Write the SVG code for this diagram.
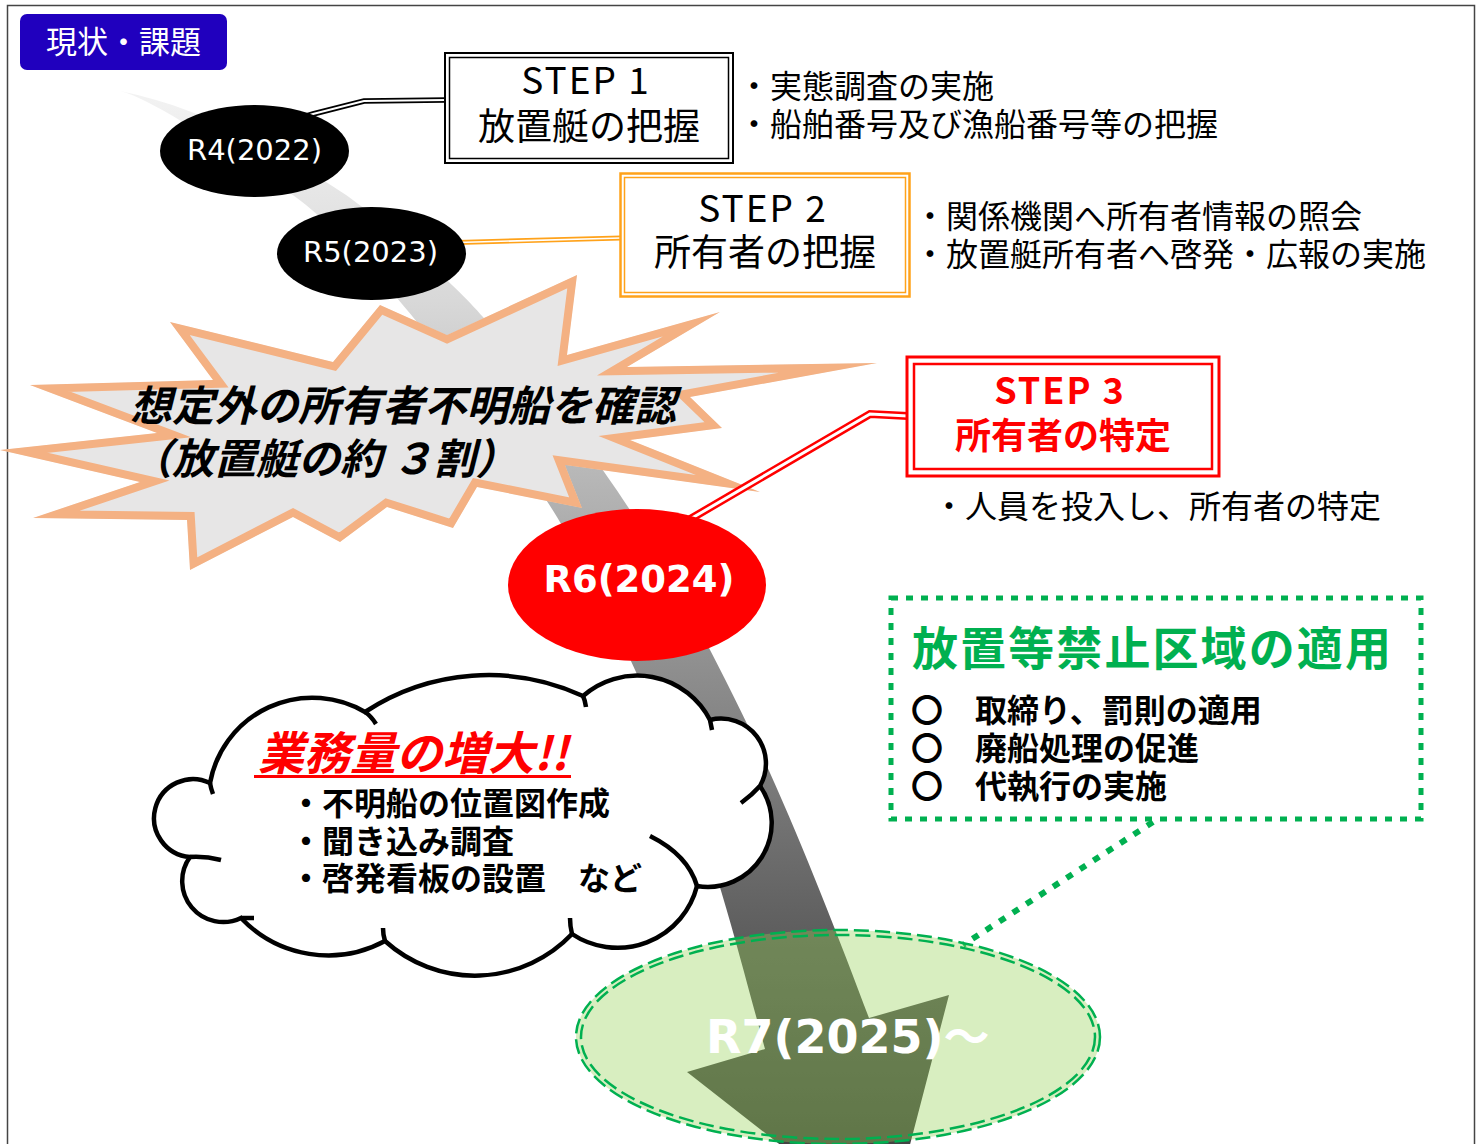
<svg xmlns="http://www.w3.org/2000/svg" width="1479" height="1144" viewBox="0 0 1479 1144">
<defs>
<linearGradient id="gArrow" gradientUnits="userSpaceOnUse" x1="0" y1="90" x2="0" y2="1144">
<stop offset="0" stop-color="#f3f3f3"/>
<stop offset="0.2" stop-color="#d8d8d8"/>
<stop offset="0.4" stop-color="#b0b0b0"/>
<stop offset="0.53" stop-color="#929292"/>
<stop offset="0.8" stop-color="#5e5e5e"/>
<stop offset="1" stop-color="#444444"/>
</linearGradient>
<clipPath id="sbClip">
<polygon id="sbShape" points="577,275 567,355 720,312 627,367 877,363 690,397 722,428 630,440 760,492 565,465 582,508 477,487 453,528 387,507 340,542 293,517 190,570 187,520 33,518 140,482 0,450 157,433 30,385 213,380 170,322 333,362 380,305 447,335"/>
</clipPath>
</defs>
<style>
.jp{font-family:"Noto Sans CJK JP","Noto Sans CJK SC",sans-serif}
.lat{font-family:"DejaVu Sans","Noto Sans CJK JP",sans-serif}
.side{font-size:32px;fill:#000}
.step{font-size:37px;fill:#000;text-anchor:middle}
.red3{font-size:36px;fill:#ff0000;font-weight:bold;text-anchor:middle}
.cloudtxt{font-size:32px;font-weight:bold;fill:#000}
.grn{font-size:32px;font-weight:bold;fill:#000}
.cl{fill:none;stroke:#000;stroke-width:4.5;stroke-linecap:butt}
</style>
<rect width="1479" height="1144" fill="#fff"/>
<rect x="7.5" y="5.5" width="1467" height="1160" fill="none" stroke="#444" stroke-width="1.5"/>

<g id="arrow">
<path fill="url(#gArrow)" d="M120 91 C200 107 275 148 343 193 C376 215 454 283 483 317 C528 370 592 451 630 510 C679 586 733 691 770 773 C803 846 841 943 869 1018 L949 995 L888 1229 L687 1072 L765 1049 C741 962 715 856 680 773 C645 690 603 594 557 517 C515 449 449 359 397 298 C368 264 323 215 290 193 C240 160 159 101 120 91 Z"/>
</g>

<g id="starburst">
<polygon points="577,275 567,355 720,312 627,367 877,363 690,397 722,428 630,440 760,492 565,465 582,508 477,487 453,528 387,507 340,542 293,517 190,570 187,520 33,518 140,482 0,450 157,433 30,385 213,380 170,322 333,362 380,305 447,335" fill="#E7E6E6" stroke="#F4B183" stroke-width="16" stroke-linejoin="miter" stroke-miterlimit="6" clip-path="url(#sbClip)"/>
<text class="jp" x="130" y="421" font-size="42" font-weight="bold" font-style="italic" fill="#000">想定外の所有者不明船を確認</text>
<text class="jp" x="130" y="474" font-size="42" font-weight="bold" font-style="italic" fill="#000">（放置艇の約 ３割）</text>
</g>

<g id="cloud">
<path d="M210 783 A104 104 0 0 1 365 712 A225 225 0 0 1 583 696 A82 82 0 0 1 710 720 A45 45 0 0 1 760 786 A64 64 0 0 1 697 886 A82 82 0 0 1 572 934 A134 134 0 0 1 385 941 A120 120 0 0 1 241 918 A41 41 0 0 1 190 857 A39 39 0 1 1 210 783 Z" fill="#fff" stroke="#000" stroke-width="4.5"/>
<path class="cl" d="M210 783 Q211 789 213 794 M365 712 Q371 716 376 724 M583 696 Q585 700 586 707 M710 720 L712 730 M760 786 Q752 795 741 803 M697 886 Q688 855 650 836 M572 934 Q570 926 570 918 M385 941 Q383 935 383 928 M241 918 L254 918 M190 857 Q205 856 221 860"/>
<text class="jp" x="258" y="770" font-size="46" font-weight="bold" font-style="italic" fill="#ff0000">業務量の増大!!</text>
<rect x="254" y="775" width="317" height="3" fill="#ff0000"/>
<text class="jp cloudtxt" x="290" y="815">・不明船の位置図作成</text>
<text class="jp cloudtxt" x="290" y="853">・聞き込み調査</text>
<text class="jp cloudtxt" x="290" y="890">・啓発看板の設置　など</text>
</g>

<g id="connectors">
<path d="M300 118 L313 114 L364 101 L446 100" fill="none" stroke="#000" stroke-width="5.5"/>
<path d="M300 118 L313 114 L364 101 L446 100" fill="none" stroke="#fff" stroke-width="2"/>
<path d="M440 243 L621 238" fill="none" stroke="#FFA21A" stroke-width="5"/>
<path d="M440 243 L621 238" fill="none" stroke="#fff" stroke-width="1.6"/>
<path d="M680 525 L870 414 L908 416" fill="none" stroke="#ff0000" stroke-width="8"/>
<path d="M680 525 L870 414 L908 416" fill="none" stroke="#fff" stroke-width="3"/>
<line x1="1153" y1="822" x2="963" y2="945" stroke="#00B050" stroke-width="6" stroke-dasharray="7 9"/>
</g>

<g id="r7">
<ellipse cx="838" cy="1037" rx="262" ry="107" fill="#92D050" fill-opacity="0.36"/>
<ellipse cx="838" cy="1037" rx="262" ry="107" fill="none" stroke="#00B050" stroke-width="2.5" stroke-dasharray="15 6"/>
<ellipse cx="838" cy="1037" rx="257" ry="102" fill="none" stroke="#00B050" stroke-width="2.5" stroke-dasharray="15 6"/>
<text class="lat" x="706" y="1053" font-size="46" font-weight="bold" fill="#fff">R7(2025)～</text>
</g>

<g id="r4">
<ellipse cx="254.5" cy="151" rx="94.5" ry="46" fill="#000"/>
<text class="lat" x="254.5" y="160" font-size="29" fill="#fff" text-anchor="middle">R4(2022)</text>
</g>
<g id="r5">
<ellipse cx="371.5" cy="253.5" rx="94.5" ry="46.5" fill="#000"/>
<text class="lat" x="370.5" y="262" font-size="29" fill="#fff" text-anchor="middle">R5(2023)</text>
</g>
<g id="r6">
<ellipse cx="637" cy="585" rx="129" ry="76" fill="#ff0000"/>
<text class="lat" x="639" y="592" font-size="37" font-weight="bold" fill="#fff" text-anchor="middle">R6(2024)</text>
</g>

<g id="title">
<rect x="20" y="14" width="207" height="56" rx="7" fill="#2000BE"/>
<text class="jp" x="123.5" y="53" font-size="31" fill="#fff" text-anchor="middle">現状・課題</text>
</g>

<g id="step1">
<rect x="445" y="53" width="288" height="110" fill="#fff" stroke="#000" stroke-width="2"/>
<rect x="449.5" y="57.5" width="279" height="101" fill="none" stroke="#000" stroke-width="1.5"/>
<text class="jp step" x="586" y="94" letter-spacing="2">STEP 1</text>
<text class="jp step" x="589" y="140">放置艇の把握</text>
<text class="jp side" x="738" y="98">・実態調査の実施</text>
<text class="jp side" x="738" y="136">・船舶番号及び漁船番号等の把握</text>
</g>

<g id="step2">
<rect x="620.5" y="173.5" width="289" height="123" fill="#fff" stroke="#FFA21A" stroke-width="2.5"/>
<rect x="624.5" y="177.5" width="281" height="115" fill="none" stroke="#FFA21A" stroke-width="1.5"/>
<text class="jp step" x="763" y="222" letter-spacing="2">STEP 2</text>
<text class="jp step" x="765" y="266">所有者の把握</text>
<text class="jp side" x="914" y="228">・関係機関へ所有者情報の照会</text>
<text class="jp side" x="914" y="266">・放置艇所有者へ啓発・広報の実施</text>
</g>

<g id="step3">
<rect x="907" y="357" width="312" height="119" fill="#fff" stroke="#ff0000" stroke-width="3"/>
<rect x="914" y="364" width="298" height="105" fill="none" stroke="#ff0000" stroke-width="2.5"/>
<text class="jp red3" x="1060" y="404" letter-spacing="2">STEP 3</text>
<text class="jp red3" x="1063" y="449" font-size="37">所有者の特定</text>
<text class="jp side" x="933" y="518">・人員を投入し、所有者の特定</text>
</g>

<g id="zone">
<rect x="891" y="598" width="530" height="221" fill="none" stroke="#00B050" stroke-width="5" stroke-dasharray="7 8"/>
<text class="jp" x="912" y="665" font-size="46" font-weight="bold" fill="#00B050" letter-spacing="2.1">放置等禁止区域の適用</text>
<text class="jp grn" x="911" y="722">〇　取締り、罰則の適用</text>
<text class="jp grn" x="911" y="760">〇　廃船処理の促進</text>
<text class="jp grn" x="911" y="798">〇　代執行の実施</text>
</g>
</svg>
